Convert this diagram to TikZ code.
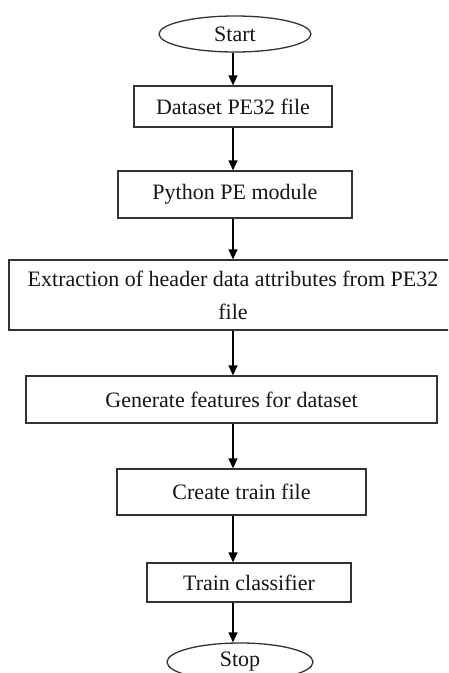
\documentclass[tikz,border=0pt]{standalone}
\usepackage{fontspec}
\setmainfont{Liberation Serif}
\usetikzlibrary{arrows.meta,shapes.geometric}

\definecolor{edge}{HTML}{333333}
\definecolor{ink}{HTML}{1A1414}

\tikzset{
  flowtext/.style={font=\fontsize{22}{33}\selectfont, text=ink, inner sep=0pt, align=center},
  stepbox/.style={flowtext, draw=edge, line width=1.3pt, rectangle},
  terminal/.style={flowtext, draw=edge, line width=1.3pt, ellipse},
  arr/.style={draw=black, line width=1.3pt, -{Triangle[width=9pt,length=10pt]}}
}

\begin{document}
\begin{tikzpicture}[x=1pt,y=-1pt]
  \useasboundingbox (0,0) rectangle (448,673);
  \clip (0,0) rectangle (448,673);
  \fill[white] (0,0) rectangle (448,673);

  % vertical axis of the connectors
  \coordinate (axis) at (233,0);

  \node[terminal, minimum width=152pt, minimum height=36pt] (start) at (235,34) {Start};
  \node[stepbox, minimum width=198pt, minimum height=41pt] (dataset) at (233,106.5) {Dataset PE32 file};
  \node[stepbox, minimum width=234pt, minimum height=47pt] (python) at (235,194.5) {Python PE module};
  \node[stepbox, minimum width=448pt, minimum height=70pt] (extract) at (233,295)
    {Extraction of header data attributes from PE32\\file};
  \node[stepbox, minimum width=411pt, minimum height=47pt] (features) at (231.5,399.5) {Generate features for dataset};
  \node[stepbox, minimum width=249pt, minimum height=46pt] (trainfile) at (241.5,492) {Create train file};
  \node[stepbox, minimum width=204pt, minimum height=39pt] (classifier) at (249,582.5) {Train classifier};
  \node[terminal, minimum width=146pt, minimum height=38pt] (stop) at (240,662) {Stop};

  \draw[arr] (start.south -| axis) -- (dataset.north -| axis);
  \draw[arr] (dataset.south -| axis) -- (python.north -| axis);
  \draw[arr] (python.south -| axis) -- (extract.north -| axis);
  \draw[arr] (extract.south -| axis) -- (features.north -| axis);
  \draw[arr] (features.south -| axis) -- (trainfile.north -| axis);
  \draw[arr] (trainfile.south -| axis) -- (classifier.north -| axis);
  \draw[arr] (classifier.south -| axis) -- (stop.north -| axis);
\end{tikzpicture}
\end{document}
